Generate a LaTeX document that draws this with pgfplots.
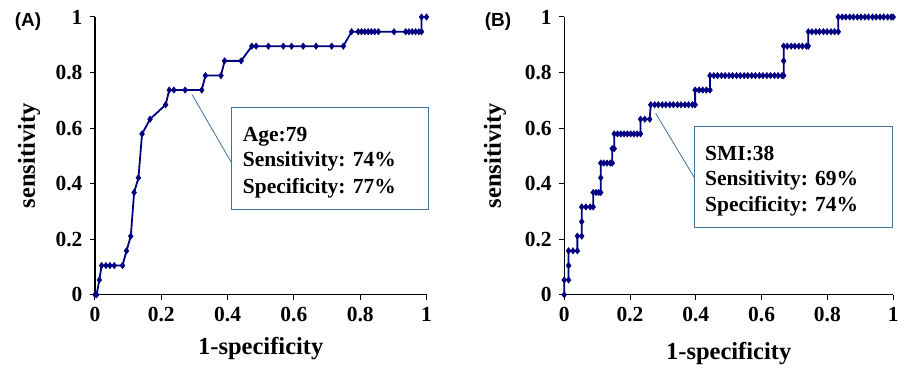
\documentclass[border=0pt]{standalone}
\usepackage{fontspec}
\setmainfont{Liberation Serif}[BoldFont={Liberation Serif Bold}]
\newfontfamily\arialfont{Liberation Sans}[BoldFont={Liberation Sans Bold}]
\usepackage{pgfplots}
\pgfplotsset{compat=1.18}
\definecolor{rocblue}{RGB}{0,0,128}
\definecolor{boxblue}{RGB}{65,113,156}
\newcommand{\bigbf}{\fontsize{21.5bp}{25bp}\selectfont\bfseries}
\pgfplotsset{rocstyle/.style={
  scale only axis, height=277.7bp,
  xmin=0, xmax=1, ymin=0, ymax=1,
  axis lines=left,
  axis line style={-, line width=1.3bp, black},
  tick style={line width=1bp, black},
  tick align=outside, major tick length=5bp,
  xtick={0,0.2,0.4,0.6,0.8,1}, ytick={0,0.2,0.4,0.6,0.8,1},
  /pgf/number format/assume math mode=true,
  xticklabel={\bigbf\pgfmathprintnumber{\tick}},
  yticklabel={\bigbf\pgfmathprintnumber{\tick}},
  xticklabel style={yshift=-4bp},
  yticklabel style={xshift=-4bp},
  label style={font=\fontsize{24.5bp}{28bp}\selectfont\bfseries},
  clip=false,
}, rocline/.style={color=rocblue, line width=1.8bp, mark=diamond*, mark size=3.2bp, mark options={solid, fill=rocblue, draw=rocblue, line width=0.5bp}}}
\begin{document}
\begin{tikzpicture}
\useasboundingbox (-95bp,-74.3bp) rectangle (809bp,294.7bp);
\begin{axis}[rocstyle, width=331.5bp, at={(0,0)}, anchor=south west,
  xlabel={1-specificity}, ylabel={sensitivity},
  xlabel style={at={(axis description cs:0.5,-0.192)}, anchor=center},
  ylabel style={at={(axis description cs:-0.199,0.5)}, anchor=center, rotate=0}]
\addplot[rocline] coordinates {
(0,0) (0.005,0) (0.013,0.053) (0.02,0.105) (0.033,0.105) (0.045,0.105) (0.058,0.105) (0.083,0.105)
(0.095,0.158) (0.108,0.211) (0.118,0.368) (0.131,0.421) (0.142,0.579) (0.166,0.632) (0.213,0.684)
(0.224,0.737) (0.238,0.737) (0.272,0.737) (0.322,0.737) (0.333,0.789) (0.38,0.789) (0.391,0.842)
(0.441,0.842) (0.473,0.895) (0.486,0.895) (0.523,0.895) (0.568,0.895) (0.593,0.895) (0.628,0.895)
(0.667,0.895) (0.714,0.895) (0.749,0.895) (0.774,0.947) (0.794,0.947) (0.804,0.947) (0.814,0.947)
(0.824,0.947) (0.834,0.947) (0.844,0.947) (0.855,0.947) (0.902,0.947) (0.937,0.947) (0.947,0.947)
(0.957,0.947) (0.967,0.947) (0.977,0.947) (0.985,0.947) (0.985,1) (1,1)
};
\draw[boxblue, line width=0.8bp] (axis cs:0.293,0.720) -- (axis cs:0.412,0.475);
\draw[boxblue, line width=1bp, fill=white] (axis cs:0.413,0.306) rectangle (axis cs:1.0075,0.673);
\node[anchor=base west, inner sep=0pt, font=\bigbf] at (axis cs:0.4456,0.550) {Age:79};
\node[anchor=base west, inner sep=0pt, font=\bigbf] at (axis cs:0.4456,0.460) {Sensitivity: 74\%};
\node[anchor=base west, inner sep=0pt, font=\bigbf] at (axis cs:0.4456,0.366) {Specificity: 77\%};
\node[anchor=center, inner sep=0pt, font=\arialfont\fontsize{19bp}{22bp}\selectfont\bfseries] at (rel axis cs:-0.202,0.982) {(A)};
\end{axis}
\begin{axis}[rocstyle, width=329bp, at={(469.2bp,0)}, anchor=south west,
  xlabel={1-specificity}, ylabel={sensitivity},
  xlabel style={at={(axis description cs:0.5,-0.21)}, anchor=center},
  ylabel style={at={(axis description cs:-0.21,0.5)}, anchor=center, rotate=0}]
\addplot[rocline] coordinates {
(0,0) (0,0.053) (0.0133,0.053) (0.0133,0.105) (0.0133,0.158) (0.0267,0.158) (0.04,0.158)
(0.04,0.211) (0.0533,0.211) (0.0533,0.263) (0.0533,0.316) (0.066,0.316) (0.079,0.316) (0.088,0.316)
(0.088,0.368) (0.097,0.368) (0.105,0.368) (0.111,0.368) (0.111,0.421) (0.111,0.474) (0.12,0.474)
(0.13,0.474) (0.14,0.474) (0.146,0.474) (0.146,0.526) (0.152,0.526) (0.152,0.579) (0.162,0.579)
(0.172,0.579) (0.182,0.579) (0.192,0.579) (0.202,0.579) (0.212,0.579) (0.222,0.579) (0.232,0.579)
(0.232,0.632) (0.245,0.632) (0.26,0.632) (0.263,0.684) (0.275,0.684) (0.286,0.684) (0.298,0.684)
(0.309,0.684) (0.321,0.684) (0.332,0.684) (0.344,0.684) (0.355,0.684) (0.367,0.684) (0.378,0.684)
(0.39,0.684) (0.398,0.684) (0.398,0.737) (0.41,0.737) (0.421,0.737) (0.432,0.737) (0.443,0.737)
(0.443,0.789) (0.455,0.789) (0.466,0.789) (0.478,0.789) (0.489,0.789) (0.501,0.789) (0.512,0.789)
(0.524,0.789) (0.535,0.789) (0.547,0.789) (0.558,0.789) (0.57,0.789) (0.581,0.789) (0.593,0.789)
(0.604,0.789) (0.616,0.789) (0.627,0.789) (0.639,0.789) (0.65,0.789) (0.662,0.789) (0.667,0.789)
(0.667,0.842) (0.667,0.895) (0.678,0.895) (0.69,0.895) (0.701,0.895) (0.713,0.895) (0.724,0.895)
(0.736,0.895) (0.742,0.895) (0.742,0.947) (0.753,0.947) (0.765,0.947) (0.776,0.947) (0.788,0.947)
(0.799,0.947) (0.811,0.947) (0.822,0.947) (0.833,0.947) (0.833,1) (0.845,1) (0.856,1) (0.868,1)
(0.879,1) (0.891,1) (0.902,1) (0.914,1) (0.925,1) (0.937,1) (0.948,1) (0.96,1) (0.971,1) (0.983,1)
(0.994,1) (1,1)
};
\draw[boxblue, line width=0.8bp] (axis cs:0.278,0.653) -- (axis cs:0.403,0.407);
\draw[boxblue, line width=1bp, fill=white] (axis cs:0.395,0.241) rectangle (axis cs:0.998,0.607);
\node[anchor=base west, inner sep=0pt, font=\bigbf] at (axis cs:0.428,0.485) {SMI:38};
\node[anchor=base west, inner sep=0pt, font=\bigbf] at (axis cs:0.428,0.393) {Sensitivity: 69\%};
\node[anchor=base west, inner sep=0pt, font=\bigbf] at (axis cs:0.428,0.301) {Specificity: 74\%};
\node[anchor=center, inner sep=0pt, font=\arialfont\fontsize{19bp}{22bp}\selectfont\bfseries] at (rel axis cs:-0.201,0.982) {(B)};
\end{axis}
\end{tikzpicture}
\end{document}
